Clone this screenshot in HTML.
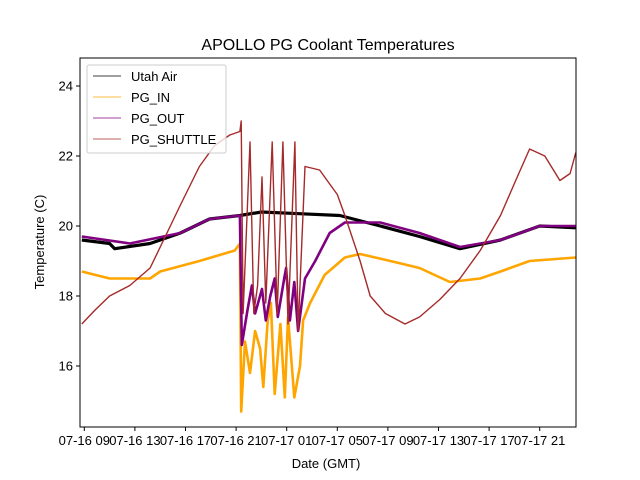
<!DOCTYPE html>
<html><head><meta charset="utf-8"><style>
body{margin:0;background:#fff}
svg{display:block;font-family:"Liberation Sans","DejaVu Sans",sans-serif}
</style></head><body>
<svg id="chart" width="640" height="480" viewBox="0 0 640 480" xmlns="http://www.w3.org/2000/svg">
<rect width="640" height="480" fill="#fff"/>
<text x="328" y="50" font-size="16" text-anchor="middle">APOLLO PG Coolant Temperatures</text>
<g id="plot"></g>
<rect x="80" y="58" width="496" height="369" fill="none" stroke="#000" stroke-width="1"/>
<g id="axes"></g>
<text x="326" y="468" font-size="13" text-anchor="middle">Date (GMT)</text>
<text transform="translate(44,242) rotate(-90)" font-size="13" text-anchor="middle">Temperature (C)</text>
<g>
<rect x="87" y="65" width="139" height="88" fill="#fff" fill-opacity="0.8" stroke="#ccc" rx="2"/>
<line x1="93" x2="121" y1="76" y2="76" stroke="#000" stroke-width="0.8"/>
<text x="131" y="81" font-size="13">Utah Air</text>
<line x1="93" x2="121" y1="97" y2="97" stroke="#ffa500" stroke-width="0.8"/>
<text x="131" y="102" font-size="13">PG_IN</text>
<line x1="93" x2="121" y1="118" y2="118" stroke="#800080" stroke-width="0.8"/>
<text x="131" y="123" font-size="13">PG_OUT</text>
<line x1="93" x2="121" y1="139" y2="139" stroke="#a52a2a" stroke-width="0.8"/>
<text x="131" y="144" font-size="13">PG_SHUTTLE</text>
</g>
</svg>
<script>
// hours since 07-16 09:00
const xTickLabels = ["07-16 09","07-16 13","07-16 17","07-16 21","07-17 01","07-17 05","07-17 09","07-17 13","07-17 17","07-17 21"];
const xTickHours = [0,4,8,12,16,20,24,28,32,36];
const yTicks = [16,18,20,22,24];

const airT = [-0.2,2.0,2.4,5.2,7.6,9.9,12.3,14.0,17.0,20.2,23.4,26.5,29.7,32.9,36.0,38.85];
const airV = [19.6,19.5,19.35,19.5,19.8,20.2,20.3,20.4,20.35,20.3,20.0,19.7,19.35,19.6,20.0,19.95];

const outT = [-0.2,3.6,7.6,9.9,12.3,12.45,12.9,13.25,13.5,14.05,14.35,14.7,15.05,15.3,15.8,15.95,16.25,16.6,16.9,17.45,18.25,19.4,20.6,23.4,26.5,29.7,32.9,36.0,38.85];
const outV = [19.7,19.5,19.8,20.2,20.3,16.6,17.6,18.3,17.5,18.2,17.3,18.0,18.5,17.4,18.5,18.8,17.3,18.4,17.0,18.5,19.0,19.8,20.1,20.1,19.8,19.4,19.6,20.0,20.0];

const inT = [-0.2,2.0,5.2,6.0,9.1,11.9,12.3,12.4,12.7,13.1,13.5,13.9,14.15,14.5,14.75,15.05,15.5,15.85,16.1,16.6,17.05,17.3,17.85,19.0,20.6,21.8,24.2,26.5,28.9,31.3,32.9,35.2,38.85];
const inV = [18.7,18.5,18.5,18.7,19.0,19.3,19.5,14.7,16.7,15.8,17.0,16.5,15.4,17.3,17.8,15.2,17.2,15.1,17.4,15.1,16.0,17.3,17.8,18.6,19.1,19.2,19.0,18.8,18.4,18.5,18.7,19.0,19.1];

const shT = [-0.2,0.85,2.0,3.6,5.2,6.4,7.6,9.1,10.3,11.5,12.3,12.4,12.55,13.1,13.4,13.7,14.05,14.35,14.85,15.25,15.7,16.1,16.65,16.9,17.45,18.6,19.4,20.0,20.6,21.8,22.6,23.8,25.35,26.5,28.1,29.7,31.3,32.9,34.1,35.2,36.4,37.6,38.4,38.85];
const shV = [17.2,17.6,18.0,18.3,18.8,19.7,20.6,21.7,22.3,22.6,22.7,23.0,17.5,22.4,17.5,18.3,21.4,17.8,22.4,17.5,22.4,17.2,22.4,17.0,21.7,21.6,21.2,20.9,20.3,19.0,18.0,17.5,17.2,17.4,17.9,18.5,19.3,20.3,21.3,22.2,22.0,21.3,21.5,22.1];

const X0=84.3, PXH=12.65, Y20=226, PXD=35;
function sx(h){return X0+h*PXH;}
function sy(v){return Y20-(v-20)*PXD;}
const NS="http://www.w3.org/2000/svg";
const plot=document.getElementById('plot');
const axes=document.getElementById('axes');
function mk(tag,attrs,parent){const e=document.createElementNS(NS,tag);for(const k in attrs)e.setAttribute(k,attrs[k]);parent.appendChild(e);return e;}
function series(T,V,color,w,name){
  const d=T.map((t,i)=>(i?'L':'M')+sx(t).toFixed(1)+' '+sy(V[i]).toFixed(1)).join(' ');
  const p=mk('path',{d:d,fill:'none',stroke:color,'stroke-width':w,'stroke-linejoin':'round'},plot);
  
  
}
series(airT,airV,'#000',3.2,'utah-air-line');
series(inT,inV,'#ffa500',2.6,'pg-in-line');
series(outT,outV,'#800080',2.6,'pg-out-line');
series(shT,shV,'#a52a2a',1.4,'pg-shuttle-line');
xTickHours.forEach((h,i)=>{
  const x=sx(h);
  const l=mk('line',{x1:x,x2:x,y1:427,y2:431,stroke:'#000'},axes);
  
  
  const t=mk('text',{x:x,y:445,'font-size':13,'text-anchor':'middle'},axes);
  t.textContent=xTickLabels[i];
  
  
});
yTicks.forEach(v=>{
  const y=sy(v);
  const l=mk('line',{x1:76,x2:80,y1:y,y2:y,stroke:'#000'},axes);
  
  
  const t=mk('text',{x:73,y:y+4.5,'font-size':13,'text-anchor':'end'},axes);
  t.textContent=v;
  
  
});
</script>
</body></html>
